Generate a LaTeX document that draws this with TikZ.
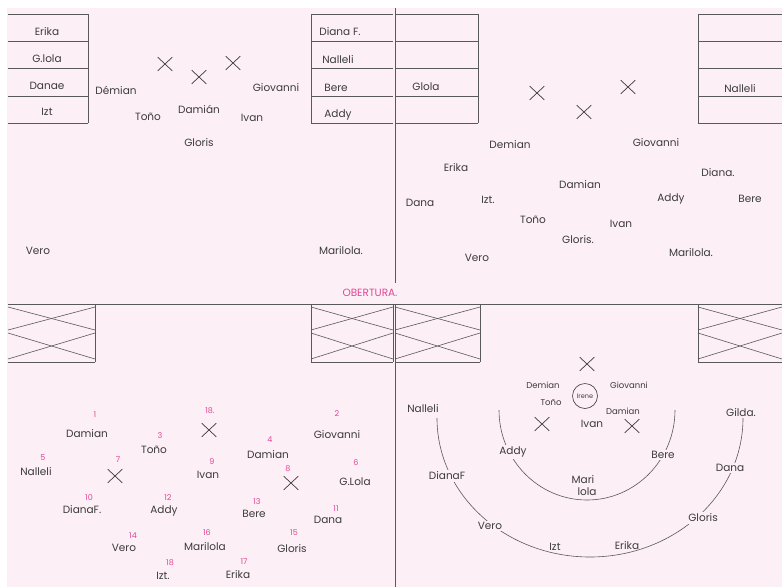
\documentclass[tikz,border=0pt]{standalone}
\usepackage{fontspec}
\setmainfont{Poppins}
\usetikzlibrary{shapes.misc}

\definecolor{paper}{RGB}{252,239,245}
\definecolor{pencil}{RGB}{60,60,60}
\definecolor{marker}{RGB}{226,70,152}

\tikzset{every picture/.style={line width=0.6pt},
  dancer/.style={text=pencil, inner sep=0.75pt, font=\fontsize{10.5}{12}\selectfont},
  small/.style={dancer, font=\fontsize{8.5}{9}\selectfont},
  onarc/.style={dancer, fill=paper, inner sep=1.5pt},
  order/.style={text=marker, inner sep=0.5pt, font=\fontsize{8}{9}\selectfont},
  spot/.style={cross out, draw=pencil, line width=0.7pt, minimum width=14pt, minimum height=13pt, inner sep=0pt},
  pencilline/.style={draw=pencil!85, line width=0.6pt}}

\begin{document}
\begin{tikzpicture}[x=1pt,y=1pt,yscale=-1,xscale=1]
	%sheet
	\useasboundingbox (0,0) rectangle (782,587);
	\fill [white] (0,0) rectangle (782,587);
	\fill [paper] (7,8) rectangle (782,587);

	%Straight Lines: page dividers
	\draw [pencilline] (395,8) -- (395,283);
	\draw [pencilline] (8,304) -- (782,304);
	\draw [pencilline] (395,304) -- (395,587);

	%Tables: side rows, top left and top right
	\foreach \xa/\xb in {8/88, 311/393, 395/478, 698/782}{
		\foreach \y in {14,41,68,96,123}
			\draw [pencilline] (\xa,\y) -- (\xb,\y);
	}
	\draw [pencilline] (88,14) -- (88,123);
	\draw [pencilline] (311,14) -- (311,123);
	\draw [pencilline] (478,14) -- (478,123);
	\draw [pencilline] (698,14) -- (698,123);

	%Shapes: crossed wings, bottom left and bottom right
	\foreach \xa/\xb in {8/95, 311/393, 395/480, 698/782}{
		\draw [pencilline] (\xa,362) -- (\xb,362);
		\draw [pencilline] (\xa,307) -- (\xb,330);
		\draw [pencilline] (\xa,330) -- (\xb,307);
		\draw [pencilline] (\xa,333) -- (\xb,359);
		\draw [pencilline] (\xa,359) -- (\xb,333);
	}
	\draw [pencilline] (95,304) -- (95,362);
	\draw [pencilline] (311,304) -- (311,362);
	\draw [pencilline] (393,304) -- (393,362);
	\draw [pencilline] (480,304) -- (480,362);
	\draw [pencilline] (698,304) -- (698,362);

	% Text Node: table names, top left
	\node [dancer] (tl-erika) at (47,32) {Erika};
	\node [dancer] (tl-glola) at (47,59) {G.lola};
	\node [dancer] (tl-danae) at (47,86) {Danae};
	\node [dancer] (tl-izt) at (47,112) {Izt};
	\node [dancer] (tl-dianaf) at (340,32) {Diana F.};
	\node [dancer] (tl-nalleli) at (338,60) {Nalleli};
	\node [dancer] (tl-bere) at (336,88) {Bere};
	\node [dancer] (tl-addy) at (338,115) {Addy};

	% Text Node: stage, top left
	\node [spot] (tl-x1) at (165,64) {};
	\node [spot] (tl-x2) at (199,77) {};
	\node [spot] (tl-x3) at (233,63) {};
	\node [dancer] (tl-demian) at (116,90) {Démian};
	\node [dancer] (tl-giovanni) at (276,88) {Giovanni};
	\node [dancer] (tl-damian) at (199,109) {Damián};
	\node [dancer] (tl-tono) at (148,117) {Toño};
	\node [dancer] (tl-ivan) at (252,118) {Ivan};
	\node [dancer] (tl-gloris) at (199,143) {Gloris};
	\node [dancer] (tl-vero) at (38,251) {Vero};
	\node [dancer] (tl-marilola) at (341,251) {Marilola.};

	% Text Node: table names, top right
	\node [dancer] (tr-glola) at (426,87) {Glola};
	\node [dancer] (tr-nalleli) at (740,89) {Nalleli};

	% Text Node: stage, top right
	\node [spot] (tr-x1) at (537,93) {};
	\node [spot] (tr-x2) at (584,112) {};
	\node [spot] (tr-x3) at (628,87) {};
	\node [dancer] (tr-demian) at (510,145) {Demian};
	\node [dancer] (tr-giovanni) at (656,143) {Giovanni};
	\node [dancer] (tr-erika) at (456,168) {Erika};
	\node [dancer] (tr-diana) at (718,173) {Diana.};
	\node [dancer] (tr-damian) at (580,185) {Damian};
	\node [dancer] (tr-dana) at (420,203) {Dana};
	\node [dancer] (tr-izt) at (488,200) {Izt.};
	\node [dancer] (tr-addy) at (671,199) {Addy};
	\node [dancer] (tr-bere) at (750,199) {Bere};
	\node [dancer] (tr-tono) at (533,220) {Toño};
	\node [dancer] (tr-ivan) at (621,224) {Ivan};
	\node [dancer] (tr-gloris) at (578,240) {Gloris.};
	\node [dancer] (tr-vero) at (477,258) {Vero};
	\node [dancer] (tr-marilola) at (691,253) {Marilola.};

	% Text Node: title
	\node [text=marker, inner sep=0.75pt, font=\fontsize{10.5}{12}\selectfont] (title) at (370,293) {OBERTURA.};

	% Text Node: stage with entry order, bottom left
	\node [order] (n1) at (95,415) {1};
	\node [dancer] (bl-demian) at (87,434) {Damian};
	\node [order] (n18a) at (210,411) {18.};
	\node [spot] (bl-x1) at (209,430) {};
	\node [order] (n2) at (337,414) {2};
	\node [dancer] (bl-giovanni) at (337,435) {Giovanni};
	\node [order] (n3) at (160,436) {3};
	\node [dancer] (bl-tono) at (154,450) {Toño};
	\node [order] (n4) at (270,440) {4};
	\node [dancer] (bl-damian) at (268,455) {Damian};
	\node [order] (n5) at (43,458) {5};
	\node [dancer] (bl-nalleli) at (36,472) {Nalleli};
	\node [order] (n7) at (118,460) {7};
	\node [spot] (bl-x2) at (115,476) {};
	\node [order] (n9) at (212,462) {9};
	\node [dancer] (bl-ivan) at (208,475) {Ivan};
	\node [order] (n8) at (288,469) {8};
	\node [spot] (bl-x3) at (291,483) {};
	\node [order] (n6) at (356,463) {6};
	\node [dancer] (bl-glola) at (355,482) {G.Lola};
	\node [order] (n10) at (89,498) {10};
	\node [dancer] (bl-dianaf) at (82,510) {DianaF.};
	\node [order] (n12) at (168,498) {12};
	\node [dancer] (bl-addy) at (164,511) {Addy};
	\node [order] (n13) at (257,502) {13};
	\node [dancer] (bl-bere) at (254,514) {Bere};
	\node [order] (n11) at (336,509) {11};
	\node [dancer] (bl-dana) at (328,520) {Dana};
	\node [order] (n14) at (133,536) {14};
	\node [dancer] (bl-vero) at (124,548) {Vero};
	\node [order] (n16) at (207,533) {16};
	\node [dancer] (bl-marilola) at (205,547) {Marilola};
	\node [order] (n15) at (294,533) {15};
	\node [dancer] (bl-gloris) at (292,549) {Gloris};
	\node [order] (n18b) at (170,563) {18};
	\node [dancer] (bl-izt) at (163,576) {Izt.};
	\node [order] (n17) at (244,562) {17};
	\node [dancer] (bl-erika) at (238,575) {Erika};

	%Shape: half circles, bottom right
	\draw [pencilline] (499,410) arc [start angle=180, end angle=0, x radius=88, y radius=90];
	\draw [pencilline] (437,418) arc [start angle=180, end angle=0, x radius=153, y radius=139];

	% Text Node: centre group, bottom right
	\node [spot] (br-x1) at (587,364) {};
	\node [small] (br-demian) at (543,385) {Demian};
	\node [small] (br-giovanni) at (629,385) {Giovanni};
	\node [draw=pencil, circle, minimum size=25pt, inner sep=0pt, text=pencil, font=\fontsize{6.5}{7}\selectfont] (br-irene) at (585,396) {Irene};
	\node [small] (br-tono) at (551,403) {Toño};
	\node [small] (br-damian) at (623,411) {Damian};
	\node [spot] (br-x2) at (542,424) {};
	\node [dancer] (br-ivan) at (592,424) {Ivan};
	\node [spot] (br-x3) at (632,426) {};

	% Text Node: rings, bottom right
	\node [dancer] (br-nalleli) at (423,409) {Nalleli};
	\node [dancer] (br-gilda) at (741,413) {Gilda.};
	\node [onarc] (br-addy) at (513,452) {Addy};
	\node [onarc] (br-bere) at (663,455) {Bere};
	\node [dancer, inner sep=0pt] (br-mari) at (583,480) {Mari};
	\node [dancer, inner sep=0pt] (br-lola) at (587,492) {lola};
	\node [onarc] (br-dianaf) at (447,476) {DianaF};
	\node [onarc] (br-dana) at (730,468) {Dana};
	\node [onarc] (br-vero) at (490,526) {Vero};
	\node [onarc] (br-gloris) at (703,518) {Gloris};
	\node [dancer] (br-izt) at (555,547) {Izt};
	\node [dancer] (br-erika) at (627,546) {Erika};
\end{tikzpicture}
\end{document}
